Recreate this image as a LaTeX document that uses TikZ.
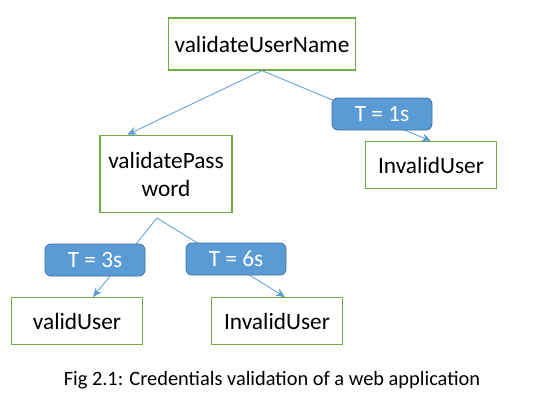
\documentclass[tikz,border=0pt]{standalone}
\usepackage{fontspec}
\setmainfont{Carlito}
\definecolor{boxgreen}{RGB}{112,173,71}
\definecolor{linkblue}{RGB}{91,155,213}
\definecolor{tagedge}{RGB}{65,113,156}
\usetikzlibrary{arrows.meta,positioning}

\begin{document}
\begin{tikzpicture}[x=0.75pt,y=-0.75pt,
    every node/.style={font=\fontsize{17.5}{21}\selectfont},
    state/.style={rectangle,draw=boxgreen,line width=0.9pt,fill=white,align=center,inner sep=0pt},
    tag/.style={rectangle,rounded corners=4.5pt,draw=tagedge,line width=0.6pt,fill=linkblue,
                text=white,minimum width=75pt,minimum height=24pt,inner sep=0pt},
    link/.style={draw=linkblue,line width=0.6pt,-{Stealth[length=7pt,width=6pt]}}]
  \useasboundingbox (0,0) rectangle (546,414);
  % States
  \node[state,minimum width=140pt,minimum height=39pt] at (262,44) (user) {validateUserName};
  \node[state,minimum width=99pt,minimum height=58pt] at (166,174) (pass) {validatePass\\word};
  \node[state,minimum width=98pt,minimum height=35pt] at (431,165) (bad1) {InvalidUser};
  \node[state,minimum width=98pt,minimum height=35pt] at (77,321) (ok) {validUser};
  \node[state,minimum width=98pt,minimum height=35pt] at (277,321) (bad2) {InvalidUser};
  \coordinate (split) at (157,218);
  % Links
  \draw[link] (user.south) -- ([xshift=-29pt]pass.north);
  \draw[link] (user.south) -- (bad1.north);
  \draw[link] (split) -- ([xshift=12pt]ok.north);
  \draw[link] (split) -- ([xshift=6pt]bad2.north);
  % Timings
  \node[tag] at (382,114) (t1) {T = 1s};
  \node[tag] at (95,260) (t3) {T = 3s};
  \node[tag] at (236,259) (t6) {T = 6s};
  % Caption
  \node[font=\fontsize{15.3}{18}\selectfont] at (272,380) (cap) {Fig 2.1: Credentials validation of a web application};
\end{tikzpicture}
\end{document}
